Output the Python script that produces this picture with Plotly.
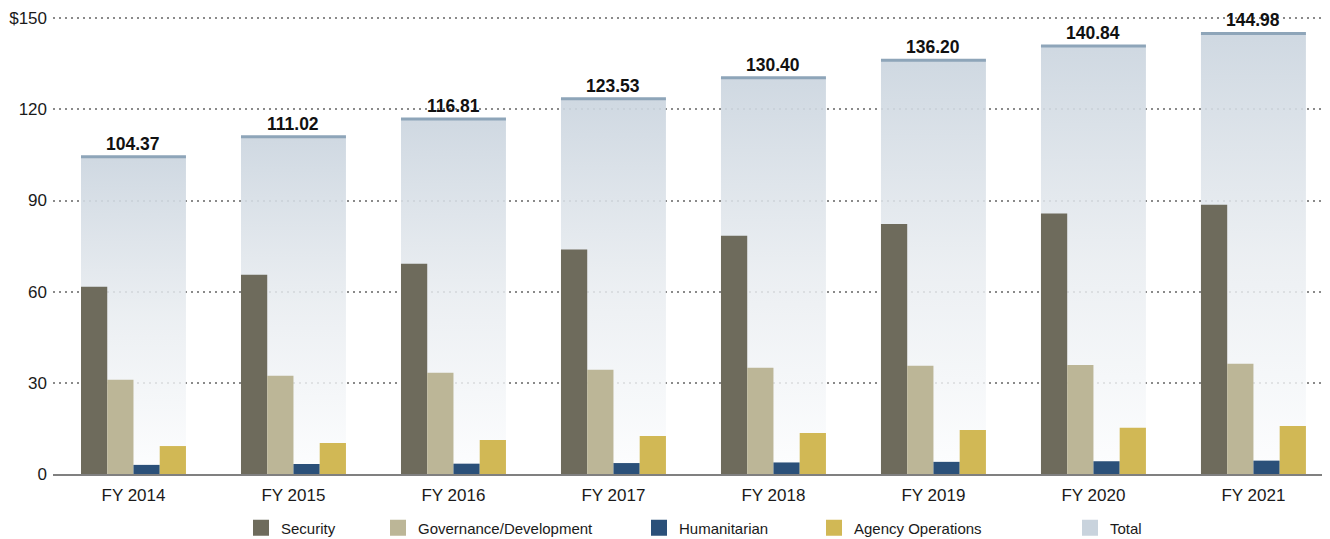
import plotly.graph_objects as go

years = ["FY 2014", "FY 2015", "FY 2016", "FY 2017", "FY 2018", "FY 2019", "FY 2020", "FY 2021"]
security = [61.6, 65.6, 69.2, 73.9, 78.4, 82.3, 85.7, 88.6]
governance = [31.0, 32.3, 33.3, 34.3, 35.0, 35.6, 35.9, 36.3]
humanitarian = [3.0, 3.3, 3.4, 3.6, 3.8, 4.0, 4.2, 4.4]
agency_ops = [9.2, 10.2, 11.2, 12.5, 13.5, 14.5, 15.2, 15.8]
totals = [104.37, 111.02, 116.81, 123.53, 130.40, 136.20, 140.84, 144.98]
y_ticks = [0, 30, 60, 90, 120, 150]
y_tick_text = ["0", "30", "60", "90", "120", "$150"]

C_SEC = "#6e6b5c"
C_GOV = "#bcb697"
C_HUM = "#2b5079"
C_AGY = "#d1b855"
C_TOT = "#c9d3dd"
C_TOTLINE = "#8ea5b9"
FONT = "Liberation Sans, Arial, sans-serif"

# The page body has an 8px margin, so the figure is sized to fill the rest of the window
FIG_W, FIG_H = 1322, 531
idx = list(range(len(years)))
group_w = 0.656
sub_w = group_w / 4

fig = go.Figure()

# Total bars: gradient-filled shapes in the main (back) subplot
for i, t in zip(idx, totals):
    fig.add_trace(go.Scatter(
        x=[i - group_w / 2, i + group_w / 2, i + group_w / 2, i - group_w / 2, i - group_w / 2],
        y=[0, 0, t, t, 0],
        mode="lines", line=dict(width=0), fill="toself",
        fillgradient=dict(type="vertical",
                          colorscale=[[0, "rgba(252,253,254,0.80)"], [0.5, "rgba(232,236,240,0.85)"],
                                      [1, "rgba(203,213,223,0.92)"]]),
        showlegend=False, hoverinfo="skip"))

# Top rule of each total bar
tx, ty = [], []
for i, t in zip(idx, totals):
    tx += [i - group_w / 2, i + group_w / 2, None]
    ty += [t, t, None]
fig.add_trace(go.Scatter(x=tx, y=ty, mode="lines", line=dict(color=C_TOTLINE, width=3),
                         showlegend=False, hoverinfo="skip"))

series = [("Security", security, C_SEC), ("Governance/Development", governance, C_GOV),
          ("Humanitarian", humanitarian, C_HUM), ("Agency Operations", agency_ops, C_AGY)]
for k, (name, vals, col) in enumerate(series):
    fig.add_trace(go.Bar(
        x=idx, y=vals, name=name, marker=dict(color=col, line=dict(width=0)),
        width=sub_w, offset=-group_w / 2 + k * sub_w,
        xaxis="x2", yaxis="y2", showlegend=False))

# Legend entries (one small legend per item, placed like the original)
legend_left_px = [233, 370, 631, 806, 1062]
leg_names = [s[0] for s in series] + ["Total"]
leg_cols = [s[2] for s in series] + [C_TOT]
for k, (nm, col) in enumerate(zip(leg_names, leg_cols)):
    lid = "legend" if k == 0 else f"legend{k + 1}"
    fig.add_trace(go.Scatter(x=[None], y=[None], mode="markers", name=nm,
                             marker=dict(symbol="square", size=20, color=col),
                             legend=lid, showlegend=True))
    fig.update_layout({lid: dict(
        xref="container", yref="container",
        x=legend_left_px[k] / FIG_W, xanchor="left",
        y=11 / FIG_H, yanchor="middle", orientation="h", bgcolor="rgba(0,0,0,0)",
        font=dict(family=FONT, size=15, color="#1a1a1a"), itemsizing="trace")})

for i, t in zip(idx, totals):
    fig.add_annotation(x=i, y=t, xref="x", yref="y", text=f"{t:.2f}", showarrow=False,
                       yanchor="bottom", yshift=1,
                       font=dict(family=FONT, size=17.5, color="#111111", weight="bold"))

xrange = [-0.503, 7.466]
fig.update_layout(
    width=FIG_W, height=FIG_H,
    margin=dict(l=45, r=2, t=9, b=65),
    paper_bgcolor="white", plot_bgcolor="white",
    barmode="overlay",
    xaxis=dict(range=xrange, tickvals=idx, ticktext=years, showgrid=False, zeroline=False,
               showline=True, linecolor="#808080", linewidth=2, layer="above traces",
               ticks="", tickfont=dict(family=FONT, size=17, color="#1a1a1a"),
               ticklabelstandoff=5, automargin=False),
    yaxis=dict(range=[0, 150.4], tickvals=y_ticks, ticktext=y_tick_text, showgrid=True,
               gridcolor="#8a8a8a", gridwidth=1.5, griddash="2px,4px", zeroline=False,
               showline=False, ticks="", tickfont=dict(family=FONT, size=17, color="#1a1a1a"),
               ticklabelstandoff=5, automargin=False),
    xaxis2=dict(overlaying="x", matches="x", visible=False),
    yaxis2=dict(overlaying="y", matches="y", visible=False),
)

fig.write_html("out.html")
